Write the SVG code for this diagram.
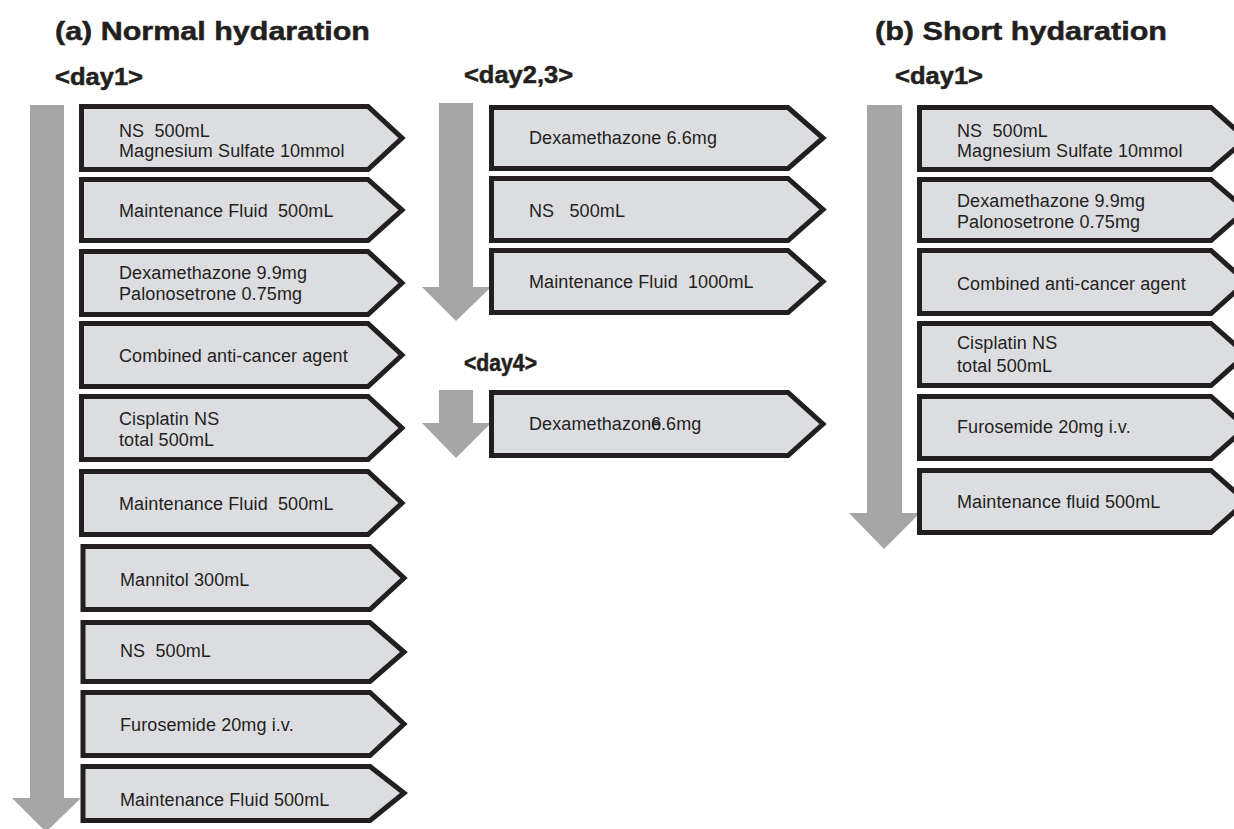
<svg xmlns="http://www.w3.org/2000/svg" width="1234" height="829" viewBox="0 0 1234 829">
<style>
.bx{fill:#dcdde0;stroke:#231f20;stroke-width:5;stroke-linejoin:miter}
.ar{fill:#a6a6a6}
.t{font-family:"Liberation Sans",Arial,sans-serif;font-size:18px;letter-spacing:0.1px;fill:#231f20;white-space:pre}
.h{font-family:"Liberation Sans",Arial,sans-serif;font-weight:bold;fill:#231f20;stroke:#231f20;stroke-width:0.5}
.h1{font-size:26px}
.h2{font-size:23px}
</style>
<rect width="1234" height="829" fill="#ffffff"/>
<g id="titles">
<text class="h h1" x="55" y="40" textLength="315" lengthAdjust="spacingAndGlyphs">(a) Normal hydaration</text>
<text class="h h1" x="875" y="40" textLength="292" lengthAdjust="spacingAndGlyphs">(b) Short hydaration</text>
<text class="h h2" x="55" y="85" textLength="88" lengthAdjust="spacingAndGlyphs">&lt;day1&gt;</text>
<text class="h h2" x="464" y="83" textLength="109" lengthAdjust="spacingAndGlyphs">&lt;day2,3&gt;</text>
<text class="h h2" x="464" y="371" textLength="73" lengthAdjust="spacingAndGlyphs">&lt;day4&gt;</text>
<text class="h h2" x="895" y="84" textLength="88" lengthAdjust="spacingAndGlyphs">&lt;day1&gt;</text>
</g>
<g id="connectors">
<polygon class="ar" points="30,105 64,105 64,798 81,798 46,832 12,798 30,798"/>
<polygon class="ar" points="439,103 473,103 473,287 491,287 456,321 422,287 439,287"/>
<polygon class="ar" points="439,390 473,390 473,423 491,423 456,458 422,423 439,423"/>
<polygon class="ar" points="867,105 902,105 902,513 920,513 884,549 849,513 867,513"/>
</g>
<g id="a1"><polygon class="bx" points="81.5,106.5 368,106.5 402,138 368,169.5 81.5,169.5"/>
<text class="t" x="119" y="136.5">NS  500mL</text><text class="t" x="119" y="157">Magnesium Sulfate 10mmol</text></g>
<g id="a2"><polygon class="bx" points="81.5,179.5 368,179.5 402,210 368,240.5 81.5,240.5"/>
<text class="t" x="119" y="217">Maintenance Fluid  500mL</text></g>
<g id="a3"><polygon class="bx" points="81.5,251.5 368,251.5 402,283 368,314.5 81.5,314.5"/>
<text class="t" x="119" y="279">Dexamethazone 9.9mg</text><text class="t" x="119" y="300">Palonosetrone 0.75mg</text></g>
<g id="a4"><polygon class="bx" points="81.5,323.5 368,323.5 402,355 368,386.5 81.5,386.5"/>
<text class="t" x="119" y="362">Combined anti-cancer agent</text></g>
<g id="a5"><polygon class="bx" points="81.5,396.5 368,396.5 402,428 368,459.5 81.5,459.5"/>
<text class="t" x="119" y="425">Cisplatin NS</text><text class="t" x="119" y="446">total 500mL</text></g>
<g id="a6"><polygon class="bx" points="81.5,471.5 368,471.5 402,503 368,534.5 81.5,534.5"/>
<text class="t" x="119" y="510">Maintenance Fluid  500mL</text></g>
<g id="a7"><polygon class="bx" points="83,546.5 370,546.5 404,578 370,609.5 83,609.5"/>
<text class="t" x="120" y="586">Mannitol 300mL</text></g>
<g id="a8"><polygon class="bx" points="83,622.5 370,622.5 404,652 370,681.5 83,681.5"/>
<text class="t" x="120" y="657">NS  500mL</text></g>
<g id="a9"><polygon class="bx" points="83,692.5 370,692.5 404,724 370,755.5 83,755.5"/>
<text class="t" x="120" y="731">Furosemide 20mg i.v.</text></g>
<g id="a10"><polygon class="bx" points="83,766.5 370,766.5 404,793 370,820.5 83,820.5"/>
<text class="t" x="120" y="806">Maintenance Fluid 500mL</text></g>
<g id="m1"><polygon class="bx" points="491.5,107.5 788,107.5 823,138 788,168.5 491.5,168.5"/>
<text class="t" x="529" y="144">Dexamethazone 6.6mg</text></g>
<g id="m2"><polygon class="bx" points="491.5,178.5 788,178.5 823,209.5 788,240.5 491.5,240.5"/>
<text class="t" x="529" y="217">NS   500mL</text></g>
<g id="m3"><polygon class="bx" points="491.5,250.5 788,250.5 823,281.5 788,312.5 491.5,312.5"/>
<text class="t" x="529" y="288">Maintenance Fluid  1000mL</text></g>
<g id="m4"><polygon class="bx" points="491.5,392.5 788,392.5 823,424 788,455.5 491.5,455.5"/>
<text class="t" x="529" y="430">Dexamethazone<tspan dx="-10.5">6.6mg</tspan></text></g>
<g id="b1"><polygon class="bx" points="919.5,107.5 1211,107.5 1246,139 1211,169.5 919.5,169.5"/>
<text class="t" x="957" y="136.5">NS  500mL</text><text class="t" x="957" y="157">Magnesium Sulfate 10mmol</text></g>
<g id="b2"><polygon class="bx" points="919.5,179.5 1211,179.5 1246,210 1211,240.5 919.5,240.5"/>
<text class="t" x="957" y="207">Dexamethazone 9.9mg</text><text class="t" x="957" y="228">Palonosetrone 0.75mg</text></g>
<g id="b3"><polygon class="bx" points="919.5,250.5 1211,250.5 1246,282 1211,313.5 919.5,313.5"/>
<text class="t" x="957" y="290">Combined anti-cancer agent</text></g>
<g id="b4"><polygon class="bx" points="919.5,323.5 1211,323.5 1246,354.5 1211,385.5 919.5,385.5"/>
<text class="t" x="957" y="349">Cisplatin NS</text><text class="t" x="957" y="372">total 500mL</text></g>
<g id="b5"><polygon class="bx" points="919.5,396.5 1211,396.5 1246,427.5 1211,458.5 919.5,458.5"/>
<text class="t" x="957" y="433">Furosemide 20mg i.v.</text></g>
<g id="b6"><polygon class="bx" points="919.5,470.5 1211,470.5 1246,501.5 1211,532.5 919.5,532.5"/>
<text class="t" x="957" y="508">Maintenance fluid 500mL</text></g>
</svg>
